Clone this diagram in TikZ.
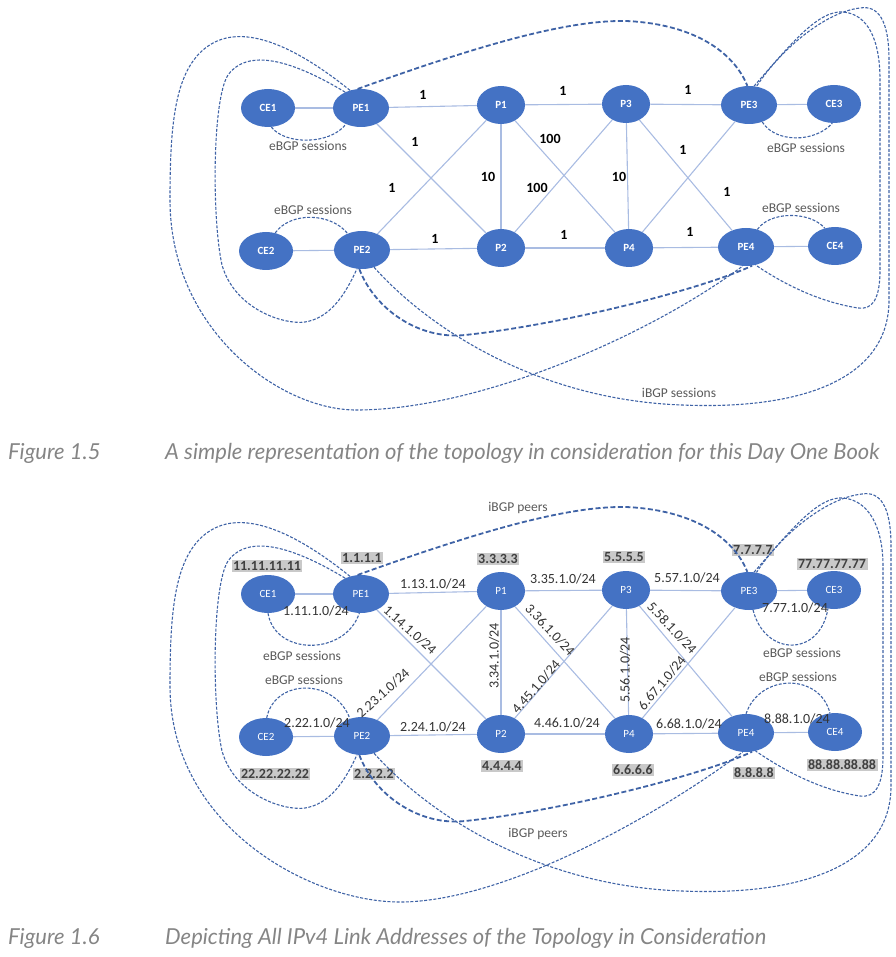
\documentclass[tikz,border=0pt]{standalone}
\usepackage{fontspec}
\usepackage{tikz}
\usetikzlibrary{shapes.geometric}
\newfontfamily\carlito{Carlito}
\newfontfamily\lato{Lato}
\definecolor{nodeblue}{HTML}{4472C4}
\definecolor{linkblue}{HTML}{A9BCE2}
\definecolor{sessblue}{HTML}{3F63A6}
\definecolor{lbgray}{HTML}{C9C9C9}
\definecolor{capgray}{HTML}{858585}

\begin{document}
\begin{tikzpicture}[x=1pt, y=-1pt,
    router/.style={ellipse, fill=nodeblue, text=white, inner sep=0pt, minimum height=38pt, font=\carlito\fontsize{11}{12}\selectfont},
    link/.style={linkblue, line width=1.1pt},
    sess/.style={sessblue, line width=1.1pt, dash pattern=on 3pt off 1.6pt},
    sessbold/.style={sessblue, line width=1.8pt, dash pattern=on 5pt off 2.5pt},
    cost/.style={font=\carlito\bfseries\fontsize{14}{16}\selectfont, inner sep=1pt},
    subnet/.style={text=black!80, font=\carlito\fontsize{14}{16}\selectfont, inner sep=1pt},
    loopback/.style={fill=lbgray, text=black!75, font=\carlito\bfseries\fontsize{14}{16}\selectfont, inner sep=1.5pt},
    note/.style={text=black!65, font=\carlito\fontsize{13.5}{15}\selectfont, inner sep=1pt},
    caption/.style={text=capgray, font=\lato\itshape\fontsize{22}{24}\selectfont, anchor=west, inner sep=0pt}]

    \useasboundingbox (0,0) rectangle (895,957);

    % Both topologies: same routers, same links
    \foreach \f/\dy/\wt in {a/0/\bfdefault, b/486/\mddefault} {
        \begin{scope}[yshift=-\dy pt]
        \foreach \n/\w/\x/\y in {CE1/54/268/108, PE1/56/361/108, P1/48/501/105, P3/48/626/104, PE3/56/749/105, CE3/54/834/104,
                                 CE2/54/266/251, PE2/56/362/250, P2/48/501/248, P4/48/629/248, PE4/56/746/247, CE4/54/835/246}
            \node[router, minimum width=\w pt] (\f\n) at (\x,\y) {\fontseries{\wt}\selectfont\n};
        \foreach \u/\v in {CE1/PE1, PE1/P1, P1/P3, P3/PE3, PE3/CE3, CE2/PE2, PE2/P2, P2/P4, P4/PE4, PE4/CE4,
                           PE1/P2, PE2/P1, P1/P2, P1/P4, P3/P2, P3/P4, P3/PE4, PE3/P4}
            \draw[link] (\f\u) -- (\f\v);
        \end{scope}
    }

    % Figure 1.5: link costs
    \foreach \t/\x/\y [count=\i] in {1/423/95, 1/563/91, 1/688/90, 1/415/142, 1/392/188, 1/435/239, 1/564/235, 1/690/232,
                                     1/683/150, 1/727/192, 10/488/177, 10/619/177, 100/550/139, 100/537/188}
        \node[cost] (cost\i) at (\x,\y) {\t};

    % eBGP sessions
    \draw[sess] (aCE1.-80) .. controls (285,145) and (330,145) .. (aPE1.-133);
    \draw[sess] (aCE2.63) .. controls (290,212) and (330,212) .. (aPE2.131);
    \draw[sess] (aPE3.-52) .. controls (775,143) and (815,143) .. (aCE3.-95);
    \draw[sess] (aPE4.57) .. controls (770,211) and (810,211) .. (aCE4.120);
    \node[note] (ebgp1) at (308,146) {eBGP sessions};
    \node[note] (ebgp2) at (313,210) {eBGP sessions};
    \node[note] (ebgp3) at (806,148) {eBGP sessions};
    \node[note] (ebgp4) at (801,208) {eBGP sessions};

    % iBGP full mesh
    \draw[sessbold] (aPE1.100) .. controls (480,45) and (580,15) .. (640,22) .. controls (700,28) and (735,55) .. (aPE3.95);
    \draw[sess] (aPE1.135) .. controls (300,65) and (250,45) .. (228,75) .. controls (212,100) and (212,220) .. (222,265)
        .. controls (235,310) and (285,325) .. (305,322) .. controls (330,318) and (345,295) .. (aPE2.-105);
    \draw[sess] (aPE1.122) .. controls (300,50) and (250,25) .. (215,42) .. controls (175,62) and (170,120) .. (170,200)
        .. controls (170,330) and (280,410) .. (356,410) .. controls (480,410) and (650,335) .. (aPE4.-100);
    \draw[sessbold] (aPE2.-98) .. controls (375,310) and (420,340) .. (465,335) .. controls (560,325) and (700,290) .. (aPE4.-72);
    \draw[sess] (aPE2.-55) .. controls (430,330) and (540,400) .. (682,405) .. controls (800,410) and (889,380) .. (889,300)
        -- (889,60) .. controls (889,20) and (878,5) .. (860,8) .. controls (825,12) and (780,50) .. (aPE3.68);
    \draw[sess] (aPE3.75) .. controls (790,45) and (818,10) .. (843,12) .. controls (868,14) and (880,40) .. (880,80)
        -- (880,270) .. controls (880,300) and (872,310) .. (858,308) .. controls (820,302) and (785,285) .. (aPE4.-62);
    \node[note] (ibgp1) at (679,393) {iBGP sessions};

    \node[caption] (fig1) at (8,453) {Figure 1.5};
    \node[caption] (cap1) at (165,453) {A simple representation of the topology in consideration for this Day One Book};

    % Figure 1.6: addresses
    \begin{scope}[yshift=-486pt]
    \foreach \t/\x/\y [count=\i] in {11.11.11.11/267/80, 1.1.1.1/362/72, 3.3.3.3/498/73, 5.5.5.5/624/71, 7.7.7.7/753/64, 77.77.77.77/832/78,
                                     22.22.22.22/275/288, 2.2.2.2/374/288, 4.4.4.4/502/280, 6.6.6.6/633/284, 8.8.8.8/754/287, 88.88.88.88/842/279}
        \node[loopback] (lo\i) at (\x,\y) {\t};

    \foreach \t/\x/\y/\r [count=\i] in {1.13.1.0/433/98/0, 1.11.1.0/316/125/0, 1.14.1.0/410/144/-42, 3.36.1.0/550/144/-47,
                                        5.58.1.0/672/142/-47, 2.23.1.0/383/207/42, 4.45.1.0/536/201/49, 6.67.1.0/662/197/50,
                                        3.34.1.0/494/170/90, 5.56.1.0/625/184/90, 2.22.1.0/317/237/0, 2.24.1.0/433/241/0,
                                        3.35.1.0/563/93/0, 5.57.1.0/687/92/0, 7.77.1.0/795/122/0, 4.46.1.0/567/237/0,
                                        6.68.1.0/689/238/0, 8.88.1.0/797/233/0}
        \node[subnet, rotate=\r] (net\i) at (\x,\y) {\t/24};

    \draw[sess] (bCE1.-90) .. controls (275,170) and (345,170) .. (bPE1.-95);
    \draw[sess] (bCE2.88) .. controls (275,192) and (335,192) .. (bPE2.125);
    \draw[sess] (bPE3.-78) .. controls (765,171) and (820,171) .. (bCE3.-108);
    \draw[sess] (bPE4.90) .. controls (760,187) and (820,187) .. (bCE4.105);
    \node[note] (ebgp5) at (302,170) {eBGP sessions};
    \node[note] (ebgp6) at (304,194) {eBGP sessions};
    \node[note] (ebgp7) at (802,167) {eBGP sessions};
    \node[note] (ebgp8) at (798,191) {eBGP sessions};

    \draw[sessbold] (bPE1.100) .. controls (480,45) and (580,15) .. (640,22) .. controls (700,28) and (735,55) .. (bPE3.95);
    \draw[sess] (bPE1.135) .. controls (300,65) and (250,45) .. (228,75) .. controls (212,100) and (212,220) .. (222,265)
        .. controls (235,310) and (285,325) .. (305,322) .. controls (330,318) and (345,295) .. (bPE2.-105);
    \draw[sess] (bPE1.122) .. controls (300,50) and (250,25) .. (215,42) .. controls (175,62) and (170,120) .. (170,200)
        .. controls (170,340) and (310,416) .. (400,416) .. controls (500,416) and (650,335) .. (bPE4.-100);
    \draw[sessbold] (bPE2.-98) .. controls (375,310) and (420,340) .. (465,335) .. controls (560,325) and (700,290) .. (bPE4.-72);
    \draw[sess] (bPE2.-55) .. controls (430,330) and (540,400) .. (682,405) .. controls (800,410) and (891,380) .. (891,300)
        -- (891,60) .. controls (891,20) and (880,5) .. (862,8) .. controls (825,12) and (780,50) .. (bPE3.68);
    \draw[sess] (bPE3.75) .. controls (790,45) and (818,10) .. (843,12) .. controls (868,14) and (883,40) .. (883,80)
        -- (883,270) .. controls (883,300) and (875,312) .. (860,310) .. controls (820,304) and (785,285) .. (bPE4.-62);
    \node[note] (ibgp2) at (518,22) {iBGP peers};
    \node[note] (ibgp3) at (538,348) {iBGP peers};
    \end{scope}

    \node[caption] (fig2) at (8,938) {Figure 1.6};
    \node[caption] (cap2) at (165,938) {Depicting All IPv4 Link Addresses of the Topology in Consideration};

\end{tikzpicture}
\end{document}
